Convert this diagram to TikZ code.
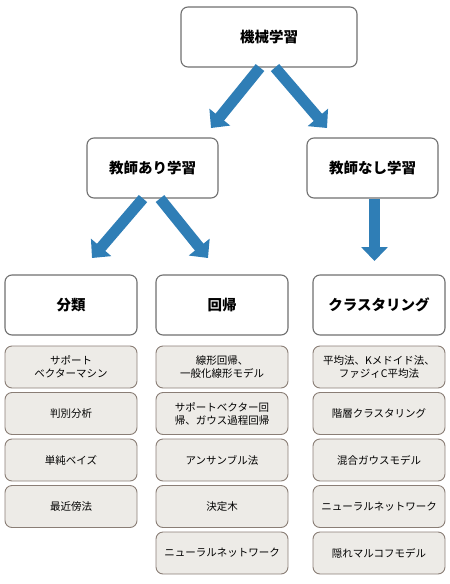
\documentclass[tikz,border=0pt]{standalone}
\usepackage{fontspec}
\setmainfont{Noto Sans CJK JP}
\usetikzlibrary{arrows.meta}

\definecolor{arrowblue}{HTML}{2F7EB6}
\definecolor{boxgray}{HTML}{707070}
\definecolor{subfill}{HTML}{EDEBE7}
\definecolor{subdraw}{HTML}{8A7E76}

\begin{document}
\begin{tikzpicture}[x=1pt,y=-1pt,
    topic/.style={draw=boxgray,line width=1.1pt,fill=white,rounded corners=7pt,
      minimum height=60pt,inner sep=0pt,font=\fontsize{14.5}{16}\selectfont\bfseries},
    method/.style={draw=subdraw,line width=0.9pt,fill=subfill,rounded corners=7pt,
      minimum width=132pt,minimum height=42pt,inner sep=0pt,align=center,
      font=\fontsize{10.5}{13}\selectfont},
    bigarrow/.style={arrowblue,line width=11pt,-{Triangle[length=14pt,width=26pt]}}]
  \useasboundingbox (0,0) rectangle (450,584);

  \node[topic,minimum width=176pt] (ml) at (269,37) {機械学習};
  \node[topic,minimum width=131pt] (sup) at (152.5,168) {教師あり学習};
  \node[topic,minimum width=131pt] (unsup) at (372.5,168) {教師なし学習};

  \node[topic,minimum width=132pt] (cls) at (71,305) {分類};
  \node[topic,minimum width=132pt] (reg) at (222,305) {回帰};
  \node[topic,minimum width=132pt] (clu) at (379,305) {クラスタリング};

  \coordinate (supTip) at (211,128);
  \coordinate (unsupTip) at (327,128);
  \coordinate (clsTip) at (92,258);
  \coordinate (regTip) at (208,258);
  \coordinate (cluTip) at (374.5,261);

  \draw[bigarrow] ([xshift=-9pt]ml.south) -- (supTip);
  \draw[bigarrow] ([xshift=6pt]ml.south) -- (unsupTip);
  \draw[bigarrow] ([xshift=-9.5pt]sup.south) -- (clsTip);
  \draw[bigarrow] ([xshift=7.5pt]sup.south) -- (regTip);
  \draw[bigarrow] ([xshift=2pt]unsup.south) -- (cluTip);

  % methods under each topic
  \foreach \txt [count=\i from 0] in {{サポート\\ベクターマシン},判別分析,単純ベイズ,最近傍法}
    \node[method] (cls\i) at (71,367+46.5*\i) {\txt};
  \foreach \txt [count=\i from 0] in {{線形回帰、\\一般化線形モデル},{サポートベクター回\\帰、ガウス過程回帰},
      アンサンブル法,決定木,ニューラルネットワーク}
    \node[method] (reg\i) at (222,367+46.5*\i) {\txt};
  \foreach \txt [count=\i from 0] in {{平均法、Kメドイド法、\\ファジィC平均法},階層クラスタリング,
      混合ガウスモデル,ニューラルネットワーク,隠れマルコフモデル}
    \node[method] (clu\i) at (379,367+46.5*\i) {\txt};
\end{tikzpicture}
\end{document}
